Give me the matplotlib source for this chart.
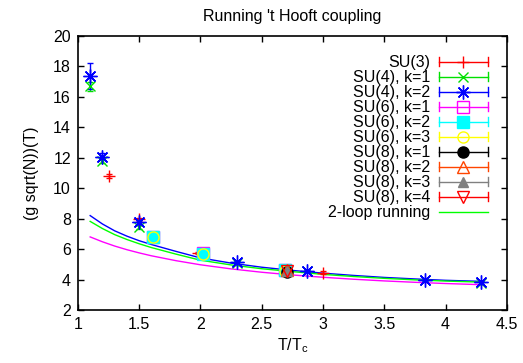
import matplotlib
matplotlib.use('Agg')
import matplotlib.pyplot as plt
from matplotlib.lines import Line2D
from matplotlib.legend_handler import HandlerBase

plt.rcParams['font.family'] = ['Liberation Sans', 'DejaVu Sans']
FS = 11.5

# data
T_SU3 = [1.25, 1.5, 1.98, 3.0]
G_SU3 = [10.8, 7.95, 5.75, 4.45]
E_SU3 = [0.1, 0.12, 0.08, 0.1]

T_SU4 = [1.1, 1.2, 1.5, 2.3, 2.87, 3.83, 4.29]
G_SU4_K1 = [16.7, 11.8, 7.45, 5.1, 4.55, 3.97, 3.8]
E_SU4_K1 = [0.3, 0.15, 0.15, 0.1, 0.08, 0.08, 0.08]
G_SU4_K2 = [17.35, 12.08, 7.75, 5.15, 4.58, 4.0, 3.82]
E_SU4_K2 = [0.85, 0.2, 0.15, 0.1, 0.08, 0.08, 0.08]

T_SU6 = [1.61, 2.02, 2.69]
G_SU6_K1 = [6.82, 5.72, 4.62]
G_SU6_K2 = [6.8, 5.7, 4.6]
G_SU6_K3 = [6.78, 5.7, 4.58]
E_SU6 = [0.1, 0.08, 0.08]

T_SU8 = [2.71]
G_SU8_K1 = [4.5]
G_SU8_K2 = [4.62]
G_SU8_K3 = [4.56]
G_SU8_K4 = [4.55]
E_SU8 = [0.08]

# 2-loop running curves
T_CURVE = [1.1, 1.2, 1.3, 1.4, 1.5, 1.6, 1.8, 2.0, 2.25, 2.5, 2.75, 3.0, 3.25, 3.5, 3.75, 4.0, 4.3]
G_BLUE = [8.2, 7.65, 7.2, 6.85, 6.55, 6.3, 5.85, 5.42, 5.08, 4.81, 4.6, 4.42, 4.27, 4.14, 4.04, 3.95, 3.88]
G_GREEN = [7.82, 7.35, 6.95, 6.63, 6.35, 6.1, 5.67, 5.27, 4.96, 4.71, 4.52, 4.34, 4.2, 4.08, 3.98, 3.9, 3.83]
G_MAGENTA = [6.8, 6.48, 6.2, 5.96, 5.75, 5.56, 5.24, 4.97, 4.7, 4.48, 4.3, 4.15, 4.02, 3.91, 3.82, 3.74, 3.66]


class GnuErrHandler(HandlerBase):
    # horizontal line with end caps and the marker in the middle
    def create_artists(self, legend, orig_handle, xdescent, ydescent, width, height, fontsize, trans):
        c = orig_handle.get_color()
        y = height / 2. - ydescent
        x0 = -xdescent
        x1 = width - xdescent
        arts = [Line2D([x0, x1], [y, y], color=c, lw=1)]
        if orig_handle.get_marker() not in (None, 'None', ''):
            arts.append(Line2D([x0, x0], [y - 3, y + 3], color=c, lw=1))
            arts.append(Line2D([x1, x1], [y - 3, y + 3], color=c, lw=1))
            m = Line2D([(x0 + x1) / 2.], [y], ls='none', marker=orig_handle.get_marker(),
                       markersize=orig_handle.get_markersize(), color=c,
                       markerfacecolor=orig_handle.get_markerfacecolor(),
                       markeredgecolor=orig_handle.get_markeredgecolor(), markeredgewidth=1)
            arts.append(m)
        for a in arts:
            a.set_transform(trans)
        return arts


fig = plt.figure(figsize=(5.23, 3.63), dpi=100)
ax = fig.add_axes([0.149, 0.146, 0.820, 0.755])

series = [
    ('SU(3)', T_SU3, G_SU3, E_SU3, '#ff0000', '+', 'none', 9),
    ('SU(4), k=1', T_SU4, G_SU4_K1, E_SU4_K1, '#00e000', 'x', 'none', 7),
    ('SU(4), k=2', T_SU4, G_SU4_K2, E_SU4_K2, '#0000ff', (8, 2, 0), 'none', 10),
    ('SU(6), k=1', T_SU6, G_SU6_K1, E_SU6, '#ff00ff', 's', 'none', 9),
    ('SU(6), k=2', T_SU6, G_SU6_K2, E_SU6, '#00ffff', 's', 'full', 8),
    ('SU(6), k=3', T_SU6, G_SU6_K3, E_SU6, '#ffff00', 'o', 'none', 8),
    ('SU(8), k=1', T_SU8, G_SU8_K1, E_SU8, '#000000', 'o', 'full', 8),
    ('SU(8), k=2', T_SU8, G_SU8_K2, E_SU8, '#ff4500', '^', 'none', 8),
    ('SU(8), k=3', T_SU8, G_SU8_K3, E_SU8, '#808080', '^', 'full', 7),
    ('SU(8), k=4', T_SU8, G_SU8_K4, E_SU8, '#ff0000', 'v', 'none', 8),
]

handles = []
labels = []
for name, t, g, e, col, mk, fill, ms in series:
    mfc = col if fill == 'full' else 'none'
    ax.errorbar(t, g, yerr=e, fmt='none', ecolor=col, elinewidth=1, capsize=2.5, zorder=3)
    ax.plot(t, g, ls='none', marker=mk, markersize=ms, color=col,
            markerfacecolor=mfc, markeredgecolor=col, markeredgewidth=1, zorder=4)
    handles.append(Line2D([], [], ls='none', marker=mk, markersize=ms, color=col,
                          markerfacecolor=mfc, markeredgecolor=col))
    labels.append(name)

ax.plot(T_CURVE, G_BLUE, color='#0000ff', lw=1, zorder=2)
ax.plot(T_CURVE, G_MAGENTA, color='#ff00ff', lw=1, zorder=2)
ax.plot(T_CURVE, G_GREEN, color='#00ff00', lw=1, zorder=2)
handles.append(Line2D([], [], color='#00ff00', lw=1))
labels.append('2-loop running')

ax.set_xlim(1, 4.5)
ax.set_ylim(2, 20)
ax.set_xticks([1, 1.5, 2, 2.5, 3, 3.5, 4, 4.5])
ax.set_xticklabels(['1', '1.5', '2', '2.5', '3', '3.5', '4', '4.5'])
ax.set_yticks(range(2, 21, 2))
ax.tick_params(direction='in', top=True, right=True, length=4, width=1, labelsize=FS, pad=5)
for sp in ax.spines.values():
    sp.set_linewidth(1.2)

ax.set_title("Running 't Hooft coupling", fontsize=FS, pad=11)
ax.set_xlabel('T/T$_\\mathregular{c}$', fontsize=FS, labelpad=3)
ax.set_ylabel('(g sqrt(N))(T)', fontsize=FS, labelpad=10)

leg = ax.legend(handles, labels, loc='upper right', markerfirst=False, frameon=False,
                handler_map={Line2D: GnuErrHandler()}, handlelength=3.05, handletextpad=0.55,
                labelspacing=0.0, borderaxespad=1.2, borderpad=0.0, fontsize=FS)

fig.savefig('out.png', dpi=100)
